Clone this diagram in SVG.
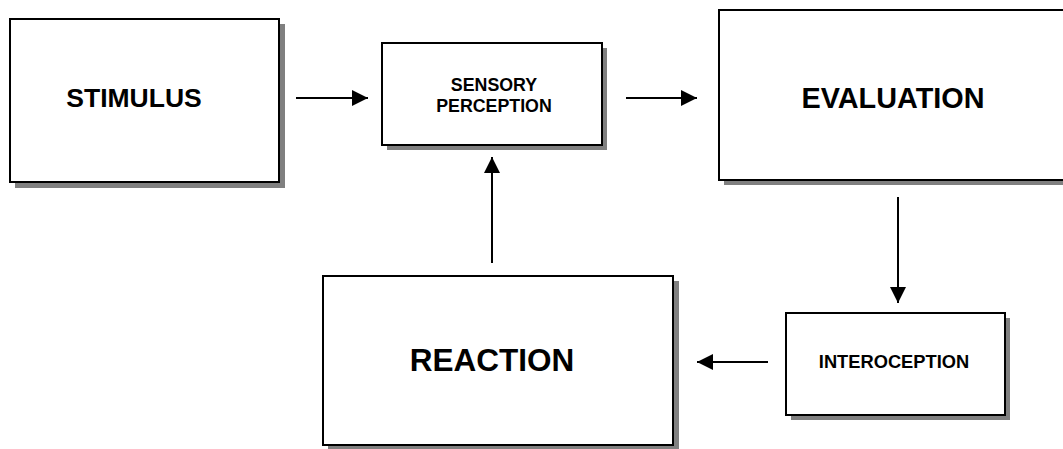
<svg xmlns="http://www.w3.org/2000/svg" width="1063" height="449" viewBox="0 0 1063 449">
<style>
.shadow{fill:#808080;stroke:none}
.box{fill:#fff;stroke:#000;stroke-width:2}
.lbl{font-family:"Liberation Sans",Arial,sans-serif;font-weight:bold;fill:#000;text-anchor:middle}
.conn{stroke:#000;stroke-width:2;fill:none;marker-end:url(#ah)}
</style>
<defs>
<marker id="ah" markerUnits="userSpaceOnUse" markerWidth="16" markerHeight="16" refX="16" refY="8" orient="auto">
<path d="M0,0 L16,8 L0,16 Z" fill="#000"/>
</marker>
</defs>
<rect width="1063" height="449" fill="#fff"/>
<g id="stimulus">
<rect class="shadow" x="15" y="24" width="270" height="164"/>
<rect class="box" x="10" y="19" width="269" height="163"/>
<text class="lbl" x="134" y="107" font-size="26.5">STIMULUS</text>
</g>
<g id="sensory-perception">
<rect class="shadow" x="387" y="48" width="220" height="102"/>
<rect class="box" x="382" y="43" width="220" height="102"/>
<text class="lbl" x="494" y="91" font-size="17.8">SENSORY</text>
<text class="lbl" x="494" y="112" font-size="17.8">PERCEPTION</text>
</g>
<g id="evaluation">
<rect class="shadow" x="724" y="15" width="360" height="170"/>
<rect class="box" x="719" y="10" width="360" height="170"/>
<text class="lbl" x="893" y="108" font-size="28.8">EVALUATION</text>
</g>
<g id="reaction">
<rect class="shadow" x="328" y="281" width="351" height="170"/>
<rect class="box" x="323" y="276" width="350" height="169"/>
<text class="lbl" x="492" y="371" font-size="31.5">REACTION</text>
</g>
<g id="interoception">
<rect class="shadow" x="791" y="318" width="219" height="102"/>
<rect class="box" x="786" y="313" width="219" height="102"/>
<text class="lbl" x="894" y="368" font-size="18.3">INTEROCEPTION</text>
</g>
<g id="connectors">
<line class="conn" x1="296" y1="98" x2="368" y2="98"/>
<line class="conn" x1="626" y1="98" x2="697" y2="98"/>
<line class="conn" x1="898" y1="197" x2="898" y2="303"/>
<line class="conn" x1="768" y1="362" x2="697" y2="362"/>
<line class="conn" x1="492" y1="263" x2="492" y2="157"/>
</g>
</svg>
